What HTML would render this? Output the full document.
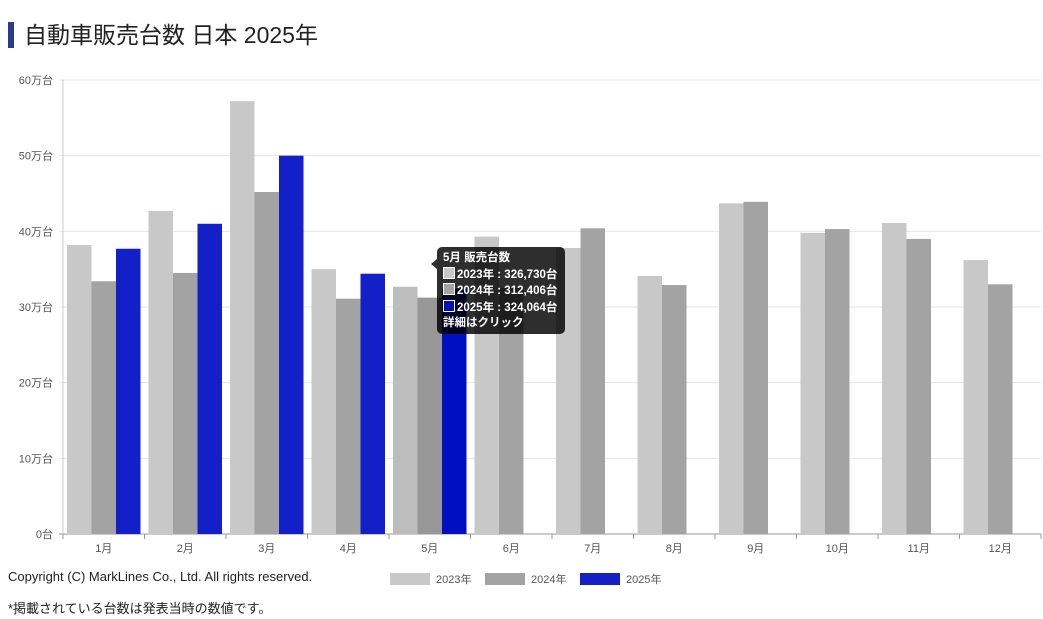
<!DOCTYPE html>
<html><head><meta charset="utf-8"><style>
body{margin:0;width:1043px;height:619px;background:#fff;font-family:"Liberation Sans","Noto Sans CJK JP",sans-serif;overflow:hidden;position:relative}
.title{position:absolute;left:8px;top:22px;height:26px;border-left:6px solid #2a3a8c;padding-left:10px;font-size:23px;line-height:26px;color:#222}
.copy{position:absolute;left:8px;top:569px;font-size:13px;color:#222}
.note{position:absolute;left:8px;top:598px;font-size:13px;color:#222}
.leg{position:absolute;top:571px;font-size:11px;color:#555;display:flex;align-items:center}
.leg i{display:inline-block;width:40px;height:12px;margin-right:6px}
.tip{position:absolute;left:437px;top:247px;width:128px;height:87px;background:rgba(0,0,0,0.82);border-radius:5px;color:#fff;font-size:11.5px;font-weight:bold;box-sizing:border-box;padding:4px 6px;line-height:15.5px}
.tip b{display:inline-block;width:10px;height:10px;border:1px solid #fff;vertical-align:-1px;margin-right:2px}
</style></head><body>
<div class="title">自動車販売台数 日本 2025年</div>
<svg id="chart" width="1043" height="619" style="position:absolute;left:0;top:0"></svg>
<div class="tip">5月 販売台数<br><b style="background:#c8c8c8"></b>2023年 : 326,730台<br><b style="background:#a3a3a3"></b>2024年 : 312,406台<br><b style="background:#0010c0"></b>2025年 : 324,064台<br>詳細はクリック</div>
<div class="copy">Copyright (C) MarkLines Co., Ltd. All rights reserved.</div>
<div class="leg" style="left:390px"><i style="background:#c8c8c8"></i>2023年</div>
<div class="leg" style="left:485px"><i style="background:#a3a3a3"></i>2024年</div>
<div class="leg" style="left:580px"><i style="background:#1320c8"></i>2025年</div>
<div class="note">*掲載されている台数は発表当時の数値です。</div>
<script>
const categories=["1月","2月","3月","4月","5月","6月","7月","8月","9月","10月","11月","12月"];
const s2023=[382000,427000,572000,350000,326730,393000,378000,341000,437000,398000,411000,362000];
const s2024=[334000,345000,452000,311000,312406,325000,404000,329000,439000,403000,390000,330000];
const s2025=[377000,410000,500000,344000,324064,null,null,null,null,null,null,null];
const yTicks=[0,100000,200000,300000,400000,500000,600000];
const yTickLabels=["0台","10万台","20万台","30万台","40万台","50万台","60万台"];
const svg=document.getElementById('chart');const NS='http://www.w3.org/2000/svg';
const X0=63,X1=1041,Y0=534,Y1=80,MAX=600000;
const y=v=>Y0-v/MAX*(Y0-Y1);const cw=(X1-X0)/categories.length;const x=i=>X0+i*cw;
function mk(t,a){const e=document.createElementNS(NS,t);for(const k in a)e.setAttribute(k,a[k]);svg.appendChild(e);return e;}
yTicks.forEach((t,i)=>{const g=mk('line',{x1:X0-4,x2:X1,y1:y(t),y2:y(t),stroke:i?'#e6e6e6':'#999'});

const l=mk('text',{x:X0-10,y:y(t)+4,'text-anchor':'end','font-size':11,fill:'#555'});l.textContent=yTickLabels[i];
});
mk('line',{x1:X0,x2:X0,y1:Y1,y2:Y0,stroke:'#ccc'});
const series=[[s2023,'#c8c8c8','#bdbdbd'],[s2024,'#a3a3a3','#989898'],[s2025,'#1320c8','#0010c0']];
const bw=24.5,off=4;
categories.forEach((c,i)=>{
 mk('line',{x1:x(i),x2:x(i),y1:Y0,y2:Y0+5,stroke:'#999'});
 const l=mk('text',{x:x(i)+cw/2,y:Y0+18,'text-anchor':'middle','font-size':11,fill:'#555'});l.textContent=c;
 
 series.forEach((s,j)=>{const v=s[0][i];if(v==null)return;
  const r=mk('rect',{x:x(i)+off+j*bw,y:y(v),width:bw,height:Y0-y(v),fill:i===4?s[2]:s[1]});
  });
});
mk('line',{x1:X1,x2:X1,y1:Y0,y2:Y0+5,stroke:'#999'});
mk('path',{d:'M437 259 L431 264 L437 269 Z',fill:'rgba(0,0,0,0.82)'});
</script>
</body></html>
